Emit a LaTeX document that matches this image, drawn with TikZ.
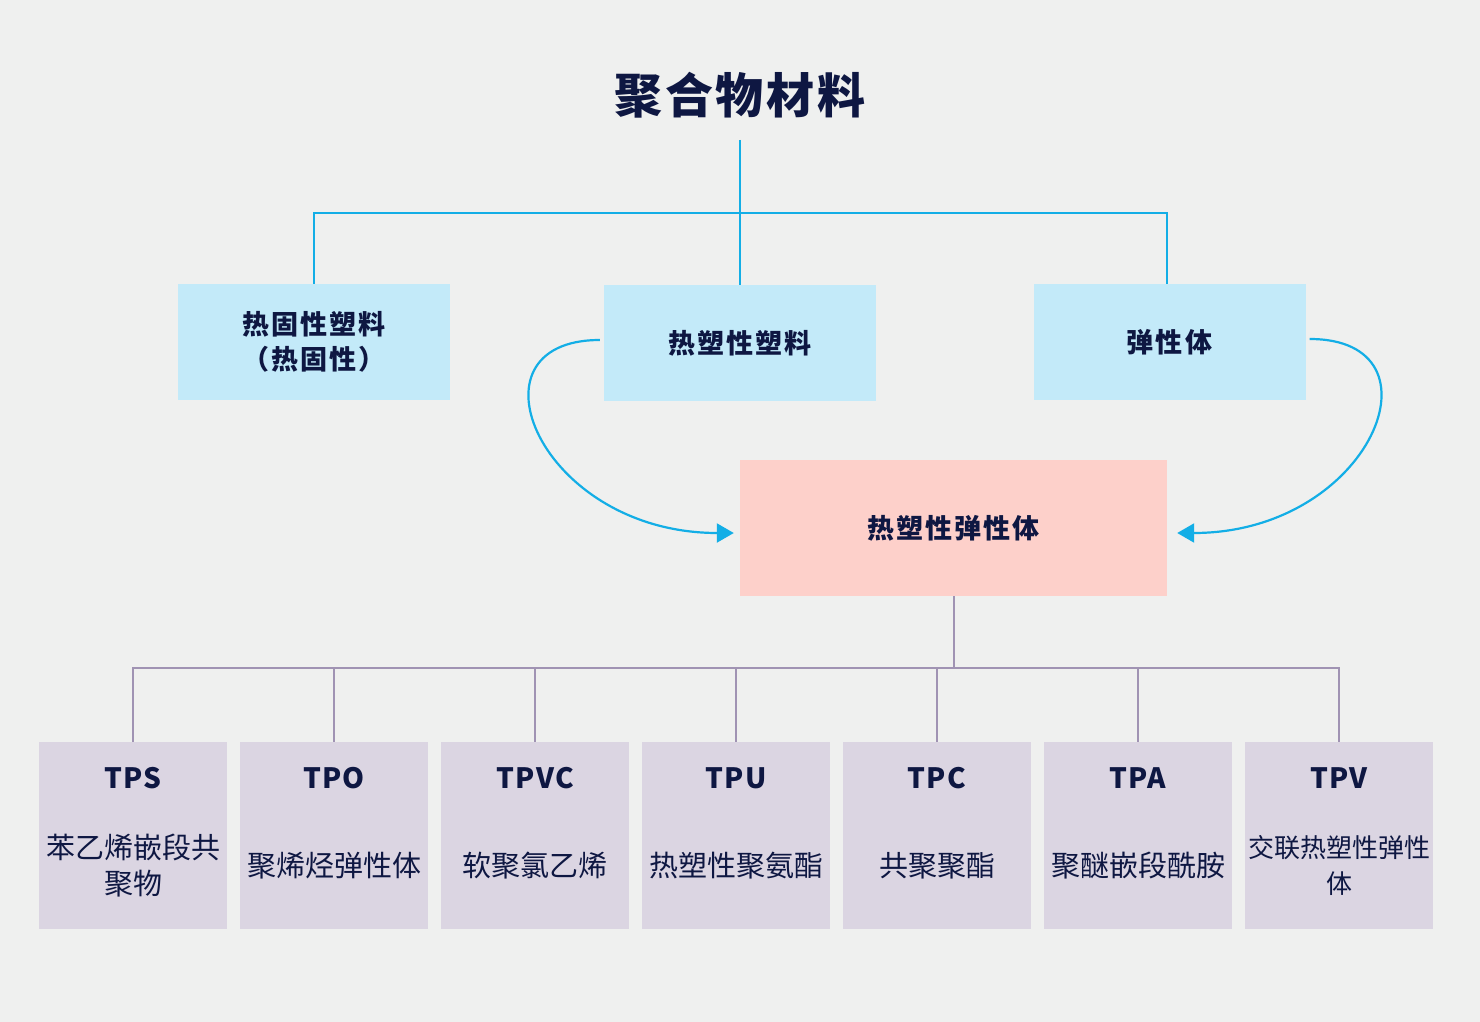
\documentclass[tikz,border=0pt]{standalone}
\usepackage{fontspec}
\setmainfont{Noto Sans CJK SC}
\usetikzlibrary{positioning,arrows.meta}
\definecolor{bgcol}{HTML}{EFF0EF}
\definecolor{topblue}{HTML}{C3EAF9}
\definecolor{tpepink}{HTML}{FDD0CA}
\definecolor{leafgray}{HTML}{DBD5E2}
\definecolor{linkblue}{HTML}{13AEE6}
\definecolor{linkpurple}{HTML}{A093B3}
\definecolor{navy}{HTML}{0E1742}

\begin{document}
\begin{tikzpicture}[x=1pt, y=-1pt,
		topbox/.style={fill=topblue, minimum width=272pt, minimum height=116pt, inner sep=0pt, align=center, text=navy, font=\fontsize{27}{35}\selectfont\bfseries\addfontfeature{LetterSpace=8}},
		tpebox/.style={fill=tpepink, minimum width=427pt, minimum height=136pt, inner sep=0pt, text=navy, font=\fontsize{27}{35}\selectfont\bfseries\addfontfeature{LetterSpace=8}},
		leafbox/.style={fill=leafgray, minimum width=188pt, minimum height=187pt, inner sep=0pt, outer sep=0pt},
		leafhead/.style={text=navy, font=\fontsize{28}{32}\selectfont\bfseries\addfontfeature{LetterSpace=5}},
		leaftext/.style={text=navy, align=center, font=\fontsize{29}{36}\selectfont},
		bluelink/.style={linkblue, line width=2.4pt},
		bluearrow/.style={linkblue, line width=2.2pt, -{Triangle[length=17pt, width=19pt]}},
		purplelink/.style={linkpurple, line width=2pt}
	]
	\fill[bgcol] (0,0) rectangle (1480,1022);
	\useasboundingbox (0,0) rectangle (1480,1022);

	% Root
	\node[text=navy, font=\fontsize{48}{56}\selectfont\bfseries\addfontfeature{LetterSpace=6}] (root) at (740,95) {聚合物材料};
	\coordinate (rootfoot) at (740,140);
	\coordinate (bus1) at (740,213);

	% Second level
	\node[topbox] (thermoset) at (314,342) {热固性塑料\\（热固性）};
	\node[topbox] (thermoplastic) at (740,343) {热塑性塑料};
	\node[topbox] (elastomer) at (1169.5,342) {弹性体};

	% Thermoplastic elastomer
	\node[tpebox] (tpe) at (953.5,528) {热塑性弹性体};
	\coordinate (bus2) at (953.5,668);

	% Leaves
	\node[leafbox] (tps) at (133,835.5) {};
	\node[leafbox, right=13pt of tps] (tpo) {};
	\node[leafbox, right=13pt of tpo] (tpvc) {};
	\node[leafbox, right=13pt of tpvc] (tpu) {};
	\node[leafbox, right=13pt of tpu] (tpc) {};
	\node[leafbox, right=13pt of tpc] (tpa) {};
	\node[leafbox, right=13pt of tpa] (tpv) {};

	\node[leafhead] (tpshead) at ([yshift=-36pt]tps.north) {TPS};
	\node[leafhead] (tpohead) at ([yshift=-36pt]tpo.north) {TPO};
	\node[leafhead] (tpvchead) at ([yshift=-36pt]tpvc.north) {TPVC};
	\node[leafhead] (tpuhead) at ([yshift=-36pt]tpu.north) {TPU};
	\node[leafhead] (tpchead) at ([yshift=-36pt]tpc.north) {TPC};
	\node[leafhead] (tpahead) at ([yshift=-36pt]tpa.north) {TPA};
	\node[leafhead] (tpvhead) at ([yshift=-36pt]tpv.north) {TPV};

	\node[leaftext] (tpstext) at ([yshift=-30pt]tps.center) {苯乙烯嵌段共\\聚物};
	\node[leaftext] (tpotext) at ([yshift=-30pt]tpo.center) {聚烯烃弹性体};
	\node[leaftext] (tpvctext) at ([yshift=-30pt]tpvc.center) {软聚氯乙烯};
	\node[leaftext] (tputext) at ([yshift=-30pt]tpu.center) {热塑性聚氨酯};
	\node[leaftext] (tpctext) at ([yshift=-30pt]tpc.center) {共聚聚酯};
	\node[leaftext] (tpatext) at ([yshift=-30pt]tpa.center) {聚醚嵌段酰胺};
	\node[leaftext, font=\fontsize{26}{36}\selectfont] (tpvtext) at ([yshift=-30pt]tpv.center) {交联热塑性弹性\\体};

	% Upper tree
	\draw[bluelink] (rootfoot) -- (thermoplastic.north);
	\draw[bluelink] (thermoset.north) |- (bus1) -| ([xshift=-2.5pt]elastomer.north);

	% Curved arrows
	\draw[bluearrow] ([shift={(-4,-3)}]thermoplastic.west) .. controls +(-140,0) and +(-194,0) .. ([shift={(-6,5)}]tpe.west);
	\draw[bluearrow] ([shift={(4,-3)}]elastomer.east) .. controls +(140,0) and +(194,0) .. ([shift={(10,5)}]tpe.east);

	% Lower tree
	\draw[purplelink] (tpe.south) -- (bus2);
	\draw[purplelink] (tps.north) |- (bus2) -| (tpv.north);
	\draw[purplelink] (bus2) -| (tpo.north);
	\draw[purplelink] (bus2) -| (tpvc.north);
	\draw[purplelink] (bus2) -| (tpu.north);
	\draw[purplelink] (bus2) -| (tpc.north);
	\draw[purplelink] (bus2) -| (tpa.north);
\end{tikzpicture}
\end{document}
